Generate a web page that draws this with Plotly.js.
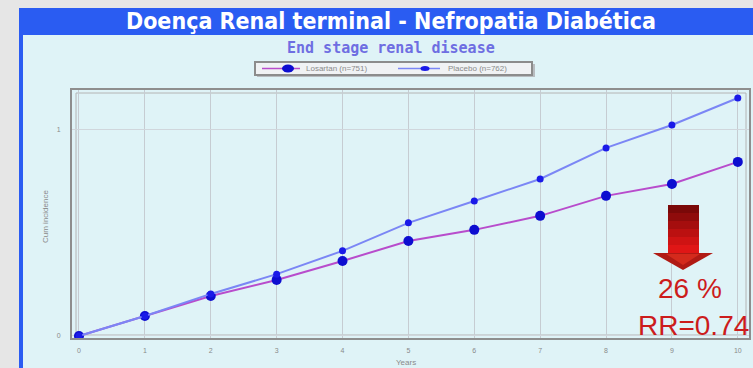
<!DOCTYPE html>
<html>
<head>
<meta charset="utf-8">
<script src="https://cdn.plot.ly/plotly-3.0.1.min.js"></script>
<style>
  html, body { margin: 0; padding: 0; background: #e6e6e6; }
  #chart { width: 753px; height: 368px; }
</style>
</head>
<body>
<div id="chart"></div>
<script>
// Follow-up years on the x axis
const years = [0, 1, 2, 3, 4, 5, 6, 7, 8, 9, 10];

// Cumulative incidence of end stage renal disease per arm
const treatedValues = [0, 0.097, 0.194, 0.272, 0.364, 0.461, 0.515, 0.583, 0.680, 0.738, 0.845];
const controlValues = [0, 0.097, 0.204, 0.300, 0.413, 0.549, 0.655, 0.762, 0.913, 1.024, 1.155];

// Series names and axis ticks
const seriesNames = ['Losartan (n=751)', 'Placebo (n=762)'];
const yTickValues = [0, 1];
const yTickLabels = ['0', '1'];

// Series styles
const lineColors = ['#b84ccc', '#7b86f5'];
const markerColors = ['#0d0dd0', '#1a1ae8'];
const markerSizes = [10, 7];

// Page geometry (pixels) used to place the frame, legend box and arrow
const W = 753, H = 368;
const M = { l: 72, r: 4, t: 90, b: 30 };
const PW = W - M.l - M.r, PH = H - M.t - M.b;
const px = x => (x - M.l) / PW;
const py = y => (H - M.b - y) / PH;

const traces = [treatedValues, controlValues].map((vals, i) => ({
  x: years, y: vals, name: seriesNames[i],
  type: 'scatter', mode: 'lines+markers', showlegend: false,
  line: { color: lineColors[i], width: 2 },
  marker: { color: markerColors[i], size: markerSizes[i] }
}));

const shapes = [
  // blue frame with title bar
  { type: 'rect', xref: 'paper', yref: 'paper', layer: 'below',
    x0: px(19), x1: px(W + 5), y0: py(H + 5), y1: py(8),
    fillcolor: '#2a5cf2', line: { width: 0 } },
  // light panel
  { type: 'rect', xref: 'paper', yref: 'paper', layer: 'below',
    x0: px(23), x1: px(W + 5), y0: py(H + 5), y1: py(35),
    fillcolor: '#dff3f7', line: { width: 0 } },
  // inner frame line of the plot box
  { type: 'rect', xref: 'paper', yref: 'paper', layer: 'below',
    x0: px(76), x1: px(746), y0: py(335), y1: py(93),
    fillcolor: 'rgba(0,0,0,0)', line: { color: '#b4b4b4', width: 1 } },
  // legend box with a soft shadow
  { type: 'rect', xref: 'paper', yref: 'paper',
    x0: px(257), x1: px(535), y0: py(77), y1: py(64),
    fillcolor: '#b8bcc0', line: { width: 0 } },
  { type: 'rect', xref: 'paper', yref: 'paper',
    x0: px(255), x1: px(532), y0: py(75), y1: py(62),
    fillcolor: '#f0f2f4', line: { color: '#8c8c8c', width: 2 } }
];

// Legend keys: line sample with marker, then the series name
const legendKeys = [
  { x0: 262, x1: 300, mx: 288, tx: 304 },
  { x0: 398, x1: 440, mx: 425, tx: 446 }
];
const legendY = 68.5;
const annotations = [];
legendKeys.forEach((k, i) => {
  shapes.push({ type: 'line', xref: 'paper', yref: 'paper',
    x0: px(k.x0), x1: px(k.x1), y0: py(legendY), y1: py(legendY),
    line: { color: lineColors[i], width: 1.5 } });
  const rx = markerSizes[i] / 2 + 1, ry = markerSizes[i] / 2 - 1;
  shapes.push({ type: 'circle', xref: 'paper', yref: 'paper',
    x0: px(k.mx - rx), x1: px(k.mx + rx), y0: py(legendY + ry), y1: py(legendY - ry),
    fillcolor: markerColors[i], line: { width: 0 } });
  annotations.push({ xref: 'paper', yref: 'paper', x: px(k.tx), y: py(legendY),
    xanchor: 'left', yanchor: 'middle', showarrow: false, text: seriesNames[i],
    font: { family: 'Liberation Sans, Arial, sans-serif', size: 8, color: '#8a8a8a' } });
});

// Red arrow: shaft drawn in bands from dark to bright red
const shaftColors = ['#7a0808', '#8f0b0b', '#a50e0e', '#bb1010', '#cf1313', '#e01616'];
const shaftTop = 205, shaftBottom = 253, bandH = (shaftBottom - shaftTop) / shaftColors.length;
shaftColors.forEach((c, i) => {
  shapes.push({ type: 'rect', xref: 'paper', yref: 'paper',
    x0: px(668), x1: px(699),
    y0: py(shaftTop + (i + 1) * bandH + 0.5), y1: py(shaftTop + i * bandH),
    fillcolor: c, line: { width: 0 } });
});
shapes.push({ type: 'path', xref: 'paper', yref: 'paper',
  path: `M ${px(653)} ${py(253)} L ${px(713)} ${py(253)} L ${px(683)} ${py(270)} Z`,
  fillcolor: '#b01a14', line: { width: 0 } });
shapes.push({ type: 'path', xref: 'paper', yref: 'paper',
  path: `M ${px(666)} ${py(254)} L ${px(700)} ${py(254)} L ${px(683)} ${py(265)} Z`,
  fillcolor: '#d42a1c', line: { width: 0 } });

const grayText = '#8a8a8a';
const textFont = 'Liberation Sans, Arial, sans-serif';
annotations.push(
  { xref: 'paper', yref: 'paper', x: px(391), y: py(48), xanchor: 'center', yanchor: 'middle',
    showarrow: false, text: '<b>End stage renal disease</b>',
    font: { family: 'DejaVu Sans Mono, monospace', size: 15, color: '#6e6ee2' } },
  { xref: 'paper', yref: 'paper', x: px(406), y: py(362), xanchor: 'center', yanchor: 'middle',
    showarrow: false, text: 'Years', font: { family: textFont, size: 8, color: grayText } },
  { xref: 'paper', yref: 'paper', x: px(45), y: py(217), xanchor: 'center', yanchor: 'middle',
    showarrow: false, textangle: -90,
    text: 'Cum incidence', font: { family: textFont, size: 8, color: grayText } },
  { xref: 'paper', yref: 'paper', x: px(690), y: py(288), xanchor: 'center', yanchor: 'middle',
    showarrow: false, text: '26 %', font: { family: textFont, size: 28, color: '#cc1c1c' } },
  { xref: 'paper', yref: 'paper', x: px(693), y: py(325), xanchor: 'center', yanchor: 'middle',
    showarrow: false, text: 'RR=0.74', font: { family: textFont, size: 28, color: '#cc1c1c' } }
);

const layout = {
  width: W, height: H,
  margin: M,
  paper_bgcolor: '#e6e6e6',
  plot_bgcolor: 'rgba(0,0,0,0)',
  title: {
    text: '<b>Doença Renal terminal - Nefropatia Diabética</b>',
    x: 391 / W, xanchor: 'center', xref: 'container',
    y: 1 - 21 / H, yanchor: 'middle', yref: 'container',
    font: { family: 'Liberation Sans Narrow, DejaVu Sans Condensed, Arial Narrow, sans-serif', size: 23, color: '#ffffff' }
  },
  showlegend: false,
  xaxis: {
    range: [-0.106, 10.17],
    tickvals: years,
    tickfont: { family: textFont, size: 7, color: grayText },
    showgrid: true, gridcolor: '#c6ccd2', gridwidth: 1,
    zeroline: false, showline: true, mirror: true, linecolor: '#8e8e8e', linewidth: 2,
    ticks: '', ticklabelstandoff: 5, fixedrange: true
  },
  yaxis: {
    range: [-0.01, 1.194],
    tickvals: yTickValues, ticktext: yTickLabels,
    tickfont: { family: textFont, size: 7, color: grayText },
    showgrid: true, gridcolor: '#d0d6dc', gridwidth: 1,
    zeroline: false, showline: true, mirror: true, linecolor: '#8e8e8e', linewidth: 2,
    ticks: '', ticklabelstandoff: 8, fixedrange: true
  },
  shapes: shapes,
  annotations: annotations
};

Plotly.newPlot('chart', traces, layout, { displayModeBar: false, staticPlot: true });
</script>
</body>
</html>
